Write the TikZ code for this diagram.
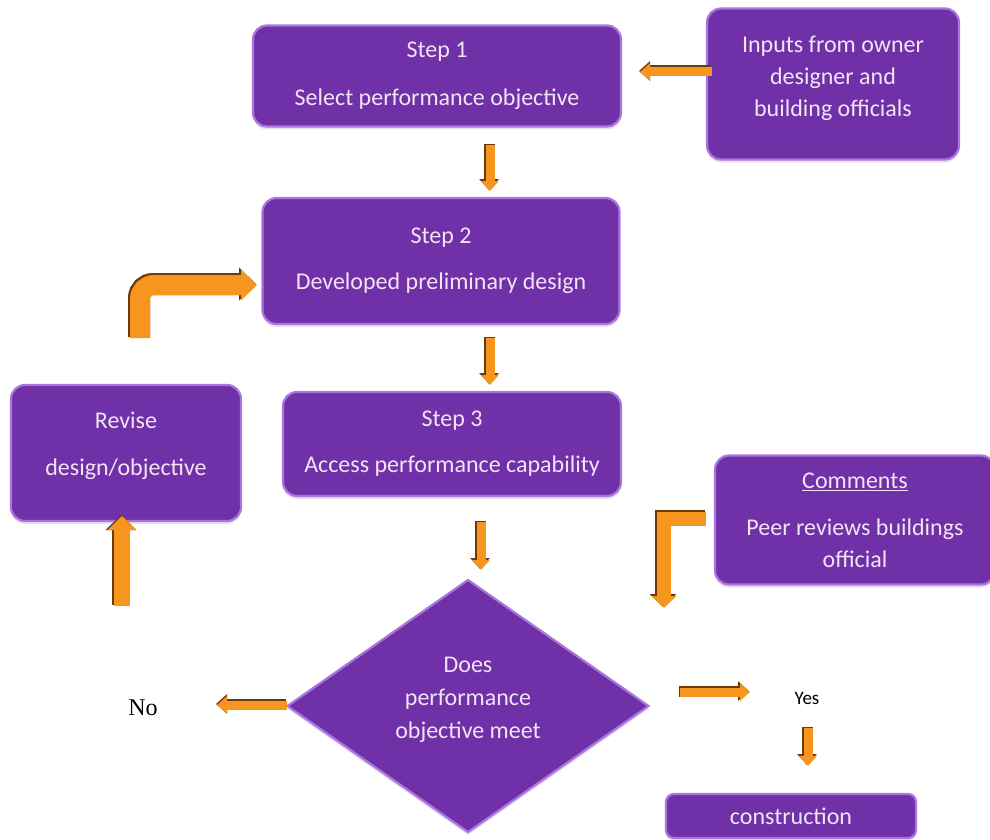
\documentclass[tikz,border=0pt]{standalone}
\usepackage{fontspec}
\setmainfont{Carlito}
\newfontfamily\serifno{Liberation Serif}
\usetikzlibrary{shapes.geometric,arrows.meta,shadows}
\definecolor{boxpurple}{HTML}{7030A8}
\definecolor{boxedge}{HTML}{A877DD}
\definecolor{boxtext}{HTML}{F2E4F4}
\definecolor{arrorange}{HTML}{F7961E}
\definecolor{arrdark}{HTML}{6B3A0A}
\tikzset{
  pbox/.style={draw=boxedge, line width=2.2pt, fill=boxpurple, rounded corners=14pt,
    text=boxtext, align=center, font=\fontsize{24}{29}\selectfont, inner sep=0pt,
    drop shadow={shadow xshift=0pt, shadow yshift=-3pt, opacity=0.25, fill=boxpurple!60}},
  pdiam/.style={pbox, shape=diamond, rounded corners=0pt, aspect=1.43},
  blk/.style={line width=9pt, arrorange, -{Triangle[width=17pt,length=10pt]}},
  blkshade/.style={line width=11pt, arrdark, -{Triangle[width=19pt,length=11pt]}},
}
\newcommand{\blockarrow}[1]{%
  \draw[blkshade, transform canvas={xshift=-1pt,yshift=1pt}] #1;
  \draw[blk] #1;}
\begin{document}
\begin{tikzpicture}[x=1pt,y=-1pt]
\useasboundingbox (0,0) rectangle (990,840);
\fill[white] (0,0) rectangle (990,840);

% boxes
\node[pbox, minimum width=368pt, minimum height=101pt] (s1) at (437,76)
  {Step 1\\[19pt]Select performance objective};
\node[pbox, minimum width=252pt, minimum height=151pt, text depth=16pt] (inp) at (833,84)
  {Inputs from owner\\[3pt]designer and\\[3pt]building officials};
\node[pbox, minimum width=357pt, minimum height=126pt] (s2) at (441,261)
  {Step 2\\[17pt]Developed preliminary design};
\node[pbox, minimum width=230pt, minimum height=136pt, text depth=18pt] (rev) at (126,453)
  {Revise\\[18pt]design/objective};
\node[pbox, minimum width=338pt, minimum height=104pt] (s3) at (452,444)
  {Step 3\\[17pt]Access performance capability};
\node[pbox, minimum width=280pt, minimum height=129pt] (com) at (855,520)
  {\underline{Comments}\\[18pt]Peer reviews buildings\\[3pt]official};
\node[pdiam, minimum width=362pt, minimum height=253pt, text depth=16pt] (dec) at (468,706)
  {Does\\[4pt]performance\\[4pt]objective meet};
\node[pbox, rounded corners=8pt, minimum width=250pt, minimum height=44pt] (con) at (791,816)
  {construction};

% plain labels
\node[font=\serifno\fontsize{24}{28}\selectfont] (no) at (143,708) {No};
\node[font=\fontsize{19}{22}\selectfont] (yes) at (807,698) {Yes};

% arrow end points
\coordinate (a1s) at (712,72);  \coordinate (a1e) at (640,72);
\coordinate (a2s) at (490,145); \coordinate (a2e) at (490,191);
\coordinate (a3s) at (140,338); \coordinate (a3m) at (140,285); \coordinate (a3e) at (257,285);
\coordinate (a4s) at (490,338); \coordinate (a4e) at (490,385);
\coordinate (a5s) at (481,522); \coordinate (a5e) at (481,570);
\coordinate (a6s) at (706,519); \coordinate (a6m) at (664,519); \coordinate (a6e) at (664,608);
\coordinate (a7s) at (122,606); \coordinate (a7e) at (122,516);
\coordinate (a8s) at (287,705); \coordinate (a8e) at (217,705);
\coordinate (a9s) at (680,692); \coordinate (a9e) at (750,692);
\coordinate (a10s) at (808,728); \coordinate (a10e) at (808,766);

\blockarrow{(a1s) -- (a1e)}
\blockarrow{(a2s) -- (a2e)}
\begin{scope}[rounded corners=14pt,
              blk/.append style={line width=20pt, -{Triangle[width=30pt,length=16pt]}},
              blkshade/.append style={line width=22pt, -{Triangle[width=32pt,length=17pt]}}]
\blockarrow{(a3s) -- (a3m) -- (a3e)}
\end{scope}
\blockarrow{(a4s) -- (a4e)}
\blockarrow{(a5s) -- (a5e)}
\begin{scope}[blk/.append style={line width=14pt, -{Triangle[width=24pt,length=12pt]}},
              blkshade/.append style={line width=16pt, -{Triangle[width=26pt,length=13pt]}}]
\blockarrow{(a6s) -- (a6m) -- (a6e)}
\end{scope}
\begin{scope}[blk/.append style={line width=16pt, -{Triangle[width=28pt,length=14pt]}},
              blkshade/.append style={line width=18pt, -{Triangle[width=30pt,length=15pt]}}]
\blockarrow{(a7s) -- (a7e)}
\end{scope}
\blockarrow{(a8s) -- (a8e)}
\blockarrow{(a9s) -- (a9e)}
\blockarrow{(a10s) -- (a10e)}
\end{tikzpicture}
\end{document}
